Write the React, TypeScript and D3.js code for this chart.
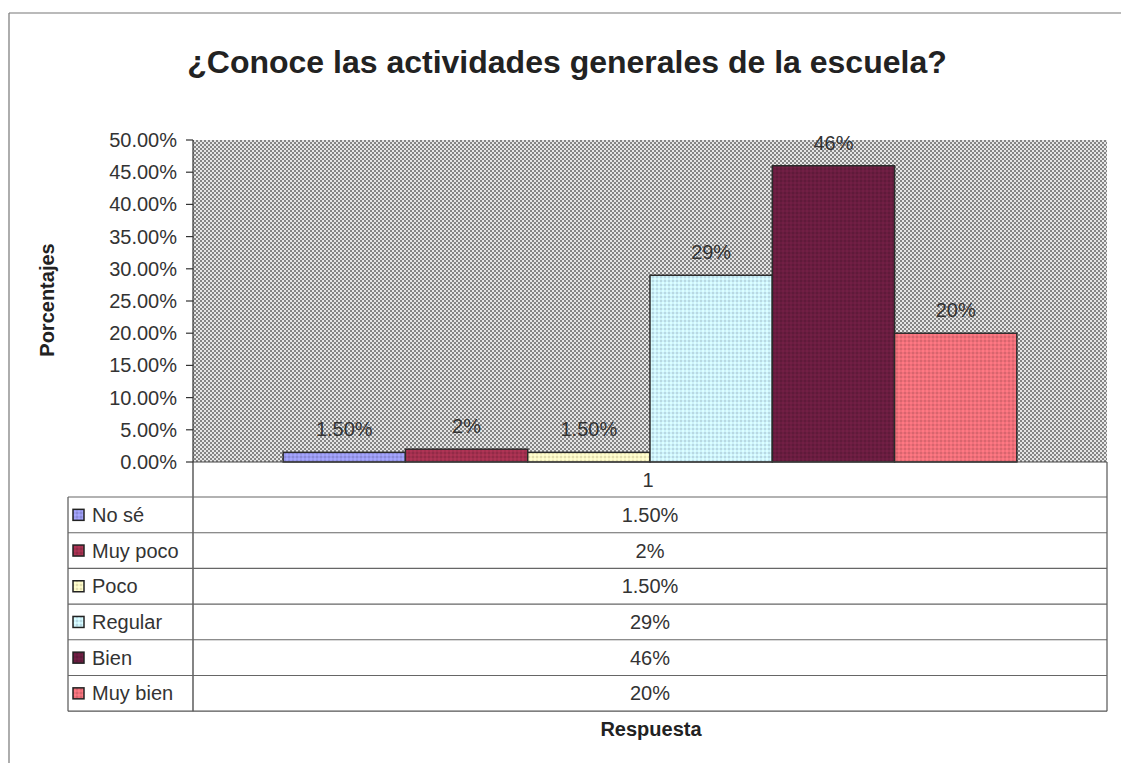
import React from "react";
import * as d3 from "d3";

const categories = ["No sé", "Muy poco", "Poco", "Regular", "Bien", "Muy bien"];
const values = [1.5, 2, 1.5, 29, 46, 20];
const valueLabels = ["1.50%", "2%", "1.50%", "29%", "46%", "20%"];
const colors = ["#9a9af0", "#a3304f", "#fbf7c4", "#cdf2fb", "#6a1d40", "#f0707a"];
const yTicks = [0, 5, 10, 15, 20, 25, 30, 35, 40, 45, 50];
const seriesName = "1";

const W = 1121;
const H = 763;
const plotL = 193;
const plotR = 1107;
const plotT = 140;
const plotB = 462;
const tableL = 68;
const headerB = 497;
const rowH = 35.7;

const FONT = "'Liberation Sans', Arial, sans-serif";

export default function App() {
  const y = d3.scaleLinear().domain([0, 50]).range([plotB, plotT]);
  const x = d3
    .scaleBand<string>()
    .domain(categories)
    .range([plotL, plotR])
    .paddingInner(0)
    .paddingOuter(0.737);
  const tableB = headerB + rowH * categories.length;

  return (
    <svg
      width={W}
      height={H}
      style={{ position: "absolute", left: 0, top: 0, background: "#fff" }}
      fontFamily={FONT}
    >
      <defs>
        <pattern id="bg" width="4" height="4" patternUnits="userSpaceOnUse">
          <rect width="4" height="4" fill="#e6e6e6" />
          <rect x="0" y="0" width="2" height="2" fill="#858585" />
          <rect x="2" y="2" width="2" height="2" fill="#858585" />
        </pattern>
        {colors.map((c, i) => (
          <pattern key={i} id={`p${i}`} width="4" height="4" patternUnits="userSpaceOnUse">
            <rect width="4" height="4" fill={c} />
            <rect x="0" y="0" width="2" height="2" fill={d3.color(c)!.darker(0.3).toString()} />
            <rect x="2" y="2" width="2" height="2" fill={d3.color(c)!.brighter(0.2).toString()} />
          </pattern>
        ))}
      </defs>

      {/* outer chart border */}
      <line x1={9} y1={13} x2={W} y2={13} stroke="#777" strokeWidth={1.2} />
      <line x1={9} y1={13} x2={9} y2={H} stroke="#777" strokeWidth={1.2} />

      {/* title */}
      <text x={567} y={73} textAnchor="middle" fontSize={32} fontWeight="bold" fill="#222">
        ¿Conoce las actividades generales de la escuela?
      </text>

      {/* plot area */}
      <rect x={plotL} y={plotT} width={plotR - plotL} height={plotB - plotT} fill="url(#bg)" />

      {/* bars */}
      {categories.map((c, i) => (
        <rect
          key={c}
          x={x(c)!}
          y={y(values[i])}
          width={x.bandwidth()}
          height={plotB - y(values[i])}
          fill={`url(#p${i})`}
          stroke="#2a2a2a"
          strokeWidth={1.5}
        />
      ))}

      {/* value labels */}
      {categories.map((c, i) => (
        <text
          key={c}
          x={x(c)! + x.bandwidth() / 2}
          y={y(values[i]) - 16}
          textAnchor="middle"
          fontSize={20}
          fill="#333"
        >
          {valueLabels[i]}
        </text>
      ))}

      {/* y axis */}
      <line x1={plotL} y1={plotT} x2={plotL} y2={tableB} stroke="#333" strokeWidth={1.2} />
      {yTicks.map((t) => (
        <g key={t}>
          <line x1={plotL - 7} x2={plotL} y1={y(t)} y2={y(t)} stroke="#333" strokeWidth={1.2} />
          <text x={177} y={y(t) + 7} textAnchor="end" fontSize={20} fill="#333">
            {t.toFixed(2)}%
          </text>
        </g>
      ))}

      {/* y axis title */}
      <text
        transform={`translate(54, 300) rotate(-90)`}
        textAnchor="middle"
        fontSize={20}
        fontWeight="bold"
        fill="#222"
      >
        Porcentajes
      </text>

      {/* data table */}
      <line x1={plotL} y1={plotB} x2={plotR} y2={plotB} stroke="#444" strokeWidth={1.2} />
      <line x1={plotR} y1={plotB} x2={plotR} y2={tableB} stroke="#555" strokeWidth={1.2} />
      <line x1={tableL} y1={headerB} x2={tableL} y2={tableB} stroke="#555" strokeWidth={1.2} />
      <text x={648} y={487} textAnchor="middle" fontSize={20} fill="#333">
        {seriesName}
      </text>
      {categories.map((c, i) => {
        const top = headerB + rowH * i;
        return (
          <g key={c}>
            <line x1={tableL} y1={top} x2={plotR} y2={top} stroke="#666" strokeWidth={1.1} />
            <rect
              x={73}
              y={top + rowH / 2 - 5.5}
              width={11}
              height={11}
              fill={`url(#p${i})`}
              stroke="#222"
              strokeWidth={1.5}
            />
            <text x={92} y={top + rowH / 2 + 7} fontSize={20} fill="#333">
              {c}
            </text>
            <text x={(plotL + plotR) / 2} y={top + rowH / 2 + 7} textAnchor="middle" fontSize={20} fill="#333">
              {valueLabels[i]}
            </text>
          </g>
        );
      })}
      <line x1={tableL} y1={tableB} x2={plotR} y2={tableB} stroke="#555" strokeWidth={1.2} />

      {/* x axis title */}
      <text x={651} y={736} textAnchor="middle" fontSize={20} fontWeight="bold" fill="#222">
        Respuesta
      </text>
    </svg>
  );
}
